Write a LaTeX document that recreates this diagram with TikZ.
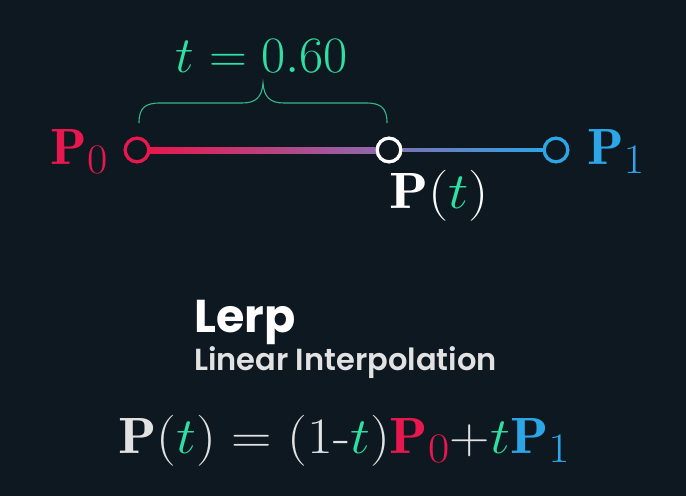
\RequirePackage{fix-cm}
\documentclass[tikz,border=0pt]{standalone}
\usepackage{fontspec}
\newfontfamily\popfont{Poppins}
\newfontfamily\popsemi{Poppins SemiBold}
\DeclareMathSizes{51}{51}{42}{34}
\usetikzlibrary{calc}
\definecolor{bg}{HTML}{0E1821}
\definecolor{cred}{HTML}{E8174D}
\definecolor{cblue}{HTML}{2CA6E6}
\definecolor{cgreen}{HTML}{2EE0A2}
\definecolor{cbrace}{HTML}{36B88C}
\definecolor{cpurA}{HTML}{9068AE}
\definecolor{cpurB}{HTML}{7C72B4}
\definecolor{cwhite}{HTML}{E2E2E2}
\tikzset{
  dot/.style={circle, minimum size=23.5, inner sep=0, line width=3.2, fill=bg},
  lbl/.style={inner sep=0, font=\fontsize{51}{60}\selectfont},
}
\begin{document}
\begin{tikzpicture}[x=1pt,y=-1pt]
\useasboundingbox (0,0) rectangle (686,496);
\fill[bg] (0,0) rectangle (686,496);
% points
\node[dot, draw=cred] (p0) at (137,150) {};
\node[dot, draw=white] (pt) at (389,150) {};
\node[dot, draw=cblue] (p1) at (556,150) {};
% segments
\shade[left color=cred, right color=cpurA] ($(p0.east)+(-1,-3)$) rectangle ($(pt.west)+(1,3)$);
\shade[left color=cpurB, right color=cblue] ($(pt.east)+(-1,-1.5)$) rectangle ($(p1.west)+(1,1.5)$);
% redraw circles on top
\node[dot, draw=cred] at (p0) {};
\node[dot, draw=white] at (pt) {};
\node[dot, draw=cblue] at (p1) {};
% labels
\node[lbl, anchor=base east, text=cred] (l0) at (108,164) {\scalebox{1.05}[1]{$\mathbf{P}_0$}};
\node[lbl, anchor=base west, text=cblue] (l1) at (587,164) {\scalebox{1.05}[1]{$\mathbf{P}_1$}};
\node[lbl, anchor=base west, text=white] (lt) at (389,208) {\scalebox{1.12}[1]{$\mathbf{P}(\textcolor{cgreen}{t})$}};
% brace
\draw[cbrace, line width=1.1] (139,123) .. controls (139,108) and (145,103) .. (160,103) -- (242,103) .. controls (256,103) and (262,97) .. (263,83)
  .. controls (264,97) and (270,103) .. (284,103) -- (366,103) .. controls (381,103) and (387,108) .. (387,123);
\node[lbl, anchor=base, text=cgreen] (tv) at (262,72) {\scalebox{1.03}[1]{$t=0.60$}};
% titles
\node[anchor=base west, inner sep=0, text=white, font=\popfont\bfseries\fontsize{46}{50}\selectfont] (lerp) at (194,332) {Lerp};
\node[anchor=base west, inner sep=0, text=cwhite, font=\popsemi\fontsize{30.5}{34}\selectfont] (sub) at (194,370) {Linear Interpolation};
% formula
\node[lbl, anchor=base west, text=cwhite] (eq) at (118,453)
  {\scalebox{1.1}[1]{$\mathbf{P}(\textcolor{cgreen}{t}) = (1\mbox{-}\textcolor{cgreen}{t})\textcolor{cred}{\mathbf{P}_0}{+}\textcolor{cgreen}{t}\textcolor{cblue}{\mathbf{P}_1}$}};
\end{tikzpicture}
\end{document}
